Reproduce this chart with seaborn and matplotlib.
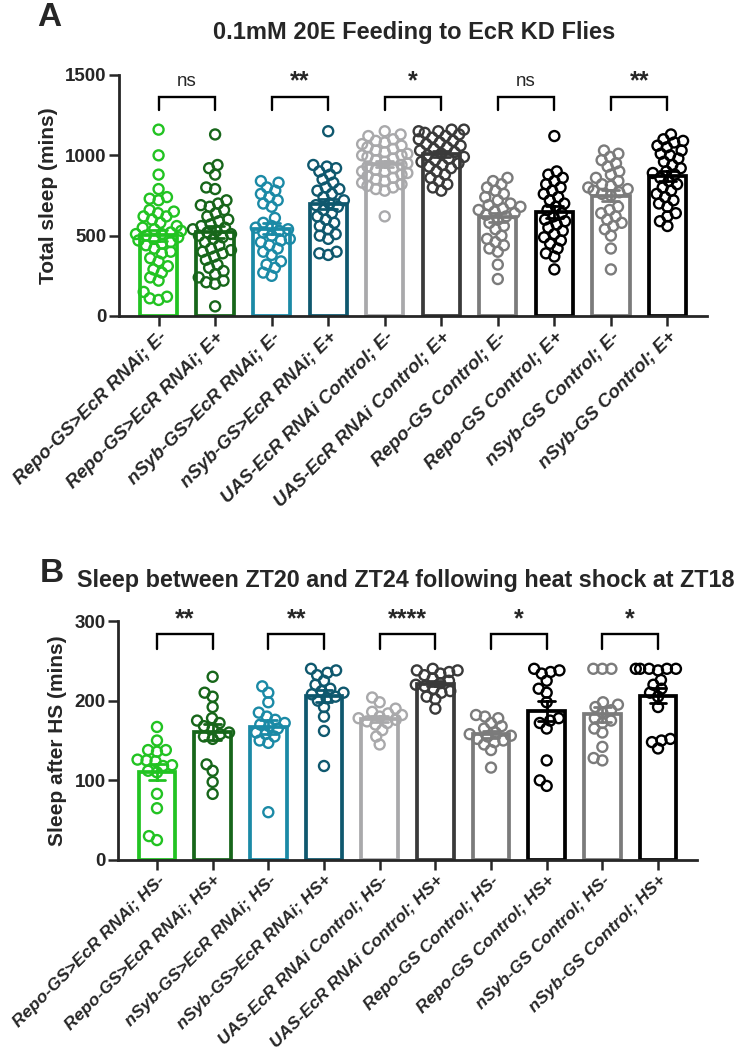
import numpy as np
import pandas as pd
import matplotlib
matplotlib.use("Agg")
import matplotlib.pyplot as plt
import seaborn as sns

# ---------------- data ----------------
groups_a = ["Repo-GS>EcR RNAi; E-", "Repo-GS>EcR RNAi; E+",
            "nSyb-GS>EcR RNAi; E-", "nSyb-GS>EcR RNAi; E+",
            "UAS-EcR RNAi Control; E-", "UAS-EcR RNAi Control; E+",
            "Repo-GS Control; E-", "Repo-GS Control; E+",
            "nSyb-GS Control; E-", "nSyb-GS Control; E+"]
groups_b = ["Repo-GS>EcR RNAi; HS-", "Repo-GS>EcR RNAi; HS+",
            "nSyb-GS>EcR RNAi; HS-", "nSyb-GS>EcR RNAi; HS+",
            "UAS-EcR RNAi Control; HS-", "UAS-EcR RNAi Control; HS+",
            "Repo-GS Control; HS-", "Repo-GS Control; HS+",
            "nSyb-GS Control; HS-", "nSyb-GS Control; HS+"]

colors = ["#22c322", "#17661a", "#1b8aa6", "#0f586e", "#a9a9ab",
          "#3a3a3a", "#7b7b7b", "#000000", "#7b7b7b", "#000000"]

a1 = [1160, 1000, 880, 790, 660, 640, 740, 730, 720, 650, 620, 620, 600, 580,
      560, 550, 540, 530, 520, 510, 510, 500, 490, 480, 470, 460, 450, 440,
      420, 400, 390, 360, 340, 310, 290, 270, 240, 220, 150, 120, 100, 110]
a2 = [1130, 940, 920, 880, 800, 790, 560, 540, 520, 720, 700, 690, 680, 660,
      640, 620, 600, 590, 570, 550, 530, 510, 500, 490, 480, 460, 440, 420,
      410, 400, 390, 370, 350, 320, 300, 280, 260, 240, 220, 210, 200, 60]
a3 = [840, 830, 800, 780, 760, 740, 720, 700, 680, 610, 580, 560, 550, 540,
      530, 520, 500, 480, 470, 460, 440, 420, 400, 380, 340, 320, 300, 270, 250]
a4 = [1150, 940, 930, 920, 900, 880, 850, 830, 800, 790, 780, 760, 740, 720,
      700, 690, 680, 660, 640, 620, 600, 580, 560, 540, 510, 500, 480, 400,
      390, 380]
a5 = [1150, 1130, 1120, 1100, 1090, 1080, 1070, 1060, 1050, 1040, 1030, 1020,
      1010, 1000, 1000, 990, 980, 970, 960, 950, 940, 930, 920, 910, 900, 900,
      890, 880, 870, 860, 850, 840, 830, 820, 810, 800, 790, 780, 620]
a6 = [1160, 1160, 1150, 1150, 1140, 1130, 1120, 1110, 1100, 1090, 1080, 1070,
      1060, 1050, 1040, 1030, 1020, 1010, 1000, 990, 980, 970, 960, 950, 940,
      930, 920, 900, 880, 860, 840, 820, 800, 780]
a7 = [860, 840, 820, 800, 780, 760, 740, 720, 700, 690, 680, 670, 660, 650,
      640, 630, 620, 600, 580, 560, 540, 500, 480, 460, 440, 420, 400, 320, 230]
a8 = [1120, 900, 880, 860, 840, 820, 800, 780, 760, 740, 720, 700, 680, 660,
      640, 620, 600, 590, 570, 550, 530, 510, 490, 470, 450, 420, 390, 370, 290]
a9 = [1030, 1010, 990, 970, 950, 930, 900, 880, 860, 840, 820, 810, 800, 790,
      780, 770, 760, 750, 680, 660, 640, 620, 600, 580, 560, 540, 500, 420, 290]
a10 = [1130, 1100, 1090, 1080, 1060, 1050, 1030, 1010, 1000, 980, 960, 940,
       920, 900, 890, 880, 860, 840, 820, 800, 780, 760, 740, 720, 700, 680,
       640, 620, 590, 560]

b1 = [167, 150, 138, 136, 138, 126, 125, 124, 119, 118, 112, 110, 83, 65, 30, 25]
b2 = [230, 210, 205, 192, 178, 175, 172, 168, 165, 160, 158, 155, 152, 120,
      112, 98, 83]
b3 = [218, 210, 198, 185, 180, 176, 172, 170, 168, 165, 160, 158, 155, 150,
      147, 60]
b4 = [240, 238, 235, 232, 225, 220, 215, 212, 210, 208, 205, 203, 200, 192,
      180, 162, 118]
b5 = [204, 198, 190, 186, 184, 182, 180, 178, 176, 174, 172, 170, 163, 155, 145]
b6 = [240, 238, 238, 236, 234, 232, 228, 225, 222, 220, 218, 215, 212, 210,
      205, 202, 190]
b7 = [182, 180, 178, 172, 168, 165, 160, 158, 156, 155, 152, 150, 148, 145,
      138, 116]
b8 = [240, 238, 236, 234, 225, 215, 210, 198, 178, 175, 172, 165, 125, 100, 93]
b9 = [240, 240, 240, 198, 195, 192, 188, 185, 178, 175, 172, 165, 160, 142,
      128, 125]
b10 = [240, 240, 240, 240, 240, 238, 226, 220, 215, 210, 205, 192, 152, 150,
       148, 140]

sig_a = ["ns", "**", "*", "ns", "**"]
sig_b = ["**", "**", "****", "*", "*"]

title_a = "0.1mM 20E Feeding to EcR KD Flies"
title_b = "Sleep between ZT20 and ZT24 following heat shock at ZT18"
ylabel_a = "Total sleep (mins)"
ylabel_b = "Sleep after HS (mins)"
yticks_a = [0, 500, 1000, 1500]
yticks_b = [0, 100, 200, 300]

# ---------------- build frames ----------------
def frame(groups, values):
    rows = []
    for g, vals in zip(groups, values):
        for v in vals:
            rows.append((g, v))
    return pd.DataFrame(rows, columns=["group", "value"])

df_a = frame(groups_a, [a1, a2, a3, a4, a5, a6, a7, a8, a9, a10])
df_b = frame(groups_b, [b1, b2, b3, b4, b5, b6, b7, b8, b9, b10])

# ---------------- style ----------------
sns.set_style("ticks")
plt.rcParams["font.family"] = ["Liberation Sans", "DejaVu Sans"]
plt.rcParams["font.weight"] = "bold"

W, H = 738, 1060
fig = plt.figure(figsize=(W / 100, H / 100), dpi=100)

ax_a = fig.add_axes([119 / W, 1 - 316 / H, 588 / W, 241 / H])
ax_b = fig.add_axes([118 / W, 1 - 860 / H, 579 / W, 239 / H])

LAYOUT_SIZE = 5.0   # marker size used for the swarm layout (overlap like the original)
SHOW_SIZE = 7.2     # marker size shown
swarm_colls = []


def draw(ax, df, groups, ylim, yticks, ylabel, sigs, br_top, br_bot, txt_y,
         xlab_size):
    pal = dict(zip(groups, colors))
    sns.barplot(data=df, x="group", y="value", hue="group", order=groups,
                hue_order=groups, palette=pal, errorbar="se", capsize=0.3,
                fill=False, linewidth=2.7, width=0.66, legend=False,
                err_kws={"linewidth": 2.0}, ax=ax)
    n_lines = len(ax.lines)
    n_coll = len(ax.collections)
    sns.swarmplot(data=df, x="group", y="value", hue="group", order=groups,
                  hue_order=groups, palette=pal, size=LAYOUT_SIZE, linewidth=1.2,
                  legend=False, ax=ax, zorder=3, warn_thresh=1.0)
    for coll in ax.collections[n_coll:]:
        fc = coll.get_facecolors()
        if len(fc):
            coll.set_edgecolors(fc)
            coll.set_facecolors("none")
            swarm_colls.append(coll)
    for line in ax.lines[:n_lines]:
        line.set_zorder(4)
    ax.set_ylim(*ylim)
    ax.set_xlim(-0.7, 9.7)
    ax.set_yticks(yticks)
    ax.set_xlabel("")
    ax.set_ylabel(ylabel, fontsize=15, fontweight="bold", labelpad=5)
    for sp in ["top", "right"]:
        ax.spines[sp].set_visible(False)
    for sp in ["left", "bottom"]:
        ax.spines[sp].set_linewidth(2.0)
    ax.tick_params(axis="both", width=1.8, length=7, labelsize=13.5, pad=2)
    for lab in ax.get_yticklabels():
        lab.set_fontweight("bold")
    ax.set_xticks(range(len(groups)))
    ax.set_xticklabels(groups, rotation=45, ha="right", rotation_mode="anchor",
                       fontsize=xlab_size, fontweight="bold", fontstyle="italic")
    # significance brackets
    for k, s in enumerate(sigs):
        x0, x1 = 2 * k, 2 * k + 1
        ax.plot([x0, x0, x1, x1], [br_bot, br_top, br_top, br_bot], color="black",
                lw=1.7, clip_on=False, solid_joinstyle="miter")
        if s == "ns":
            ax.text((x0 + x1) / 2, txt_y, s, ha="center", va="center",
                    fontsize=13.5, fontweight="normal", clip_on=False)
        else:
            ax.text((x0 + x1) / 2, txt_y, s, ha="center", va="center",
                    fontsize=18, fontweight="bold", clip_on=False)


draw(ax_a, df_a, groups_a, (0, 1500), yticks_a, ylabel_a, sig_a, 1365, 1285, 1458,
     13.5)
draw(ax_b, df_b, groups_b, (0, 300), yticks_b, ylabel_b, sig_b, 284, 265, 302,
     12.6)

fig.text(414 / W, 1 - 33 / H, title_a, ha="center", va="center",
         fontsize=17, fontweight="bold")
fig.text(37 / W, 1 - 17 / H, "A", ha="left", va="center", fontsize=24,
         fontweight="bold")
fig.text(77 / W, 1 - 581 / H, title_b, ha="left", va="center",
         fontsize=16.8, fontweight="bold")
fig.text(40 / W, 1 - 574 / H, "B", ha="left", va="center", fontsize=24,
         fontweight="bold")

# compute the swarm layout with the smaller markers, then freeze it and enlarge
fig.canvas.draw()
for coll in swarm_colls:
    if "draw" in coll.__dict__:
        del coll.draw
    coll.set_sizes([SHOW_SIZE ** 2])
    coll.set_linewidth(1.7)

fig.savefig("out.png", dpi=100)
